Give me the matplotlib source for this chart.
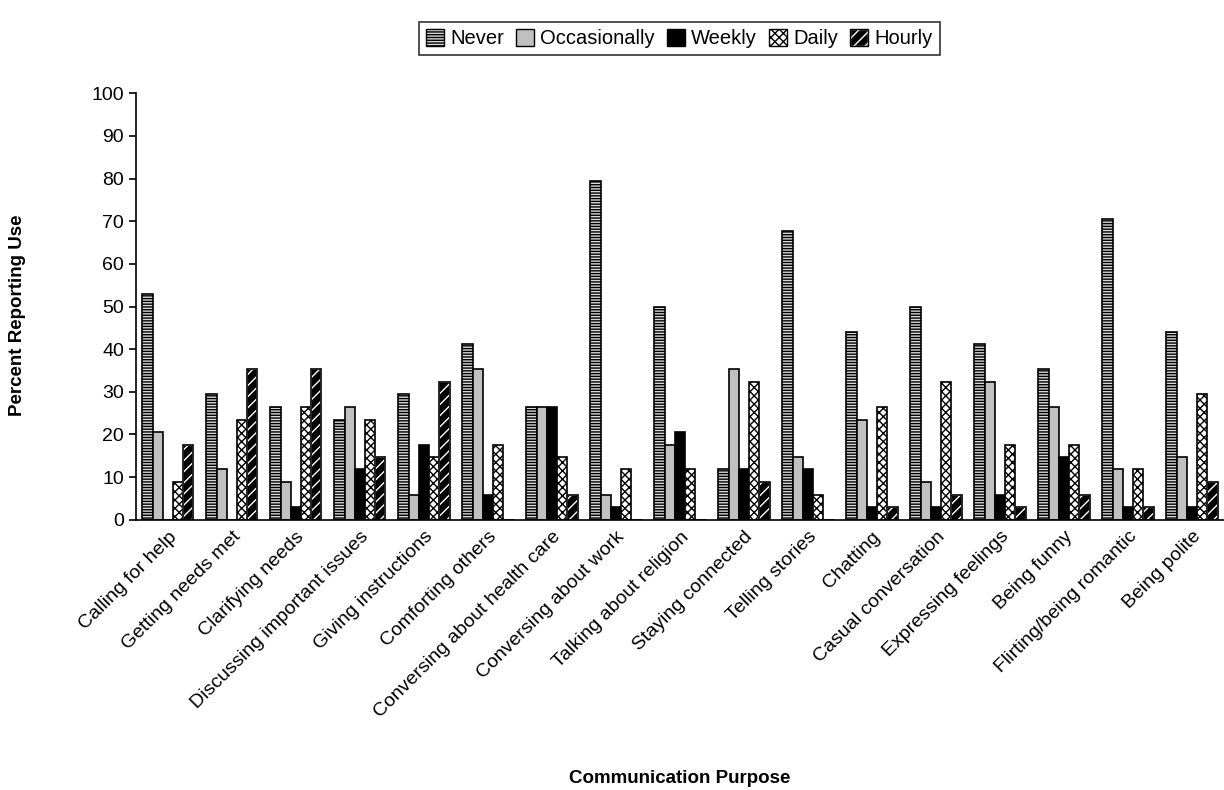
import matplotlib
matplotlib.use("Agg")
import matplotlib.pyplot as plt
import numpy as np
from matplotlib.patches import Patch

plt.rcParams['font.family'] = ['Liberation Sans', 'DejaVu Sans']
plt.rcParams['hatch.linewidth'] = 1.0

categories = ["Calling for help", "Getting needs met", "Clarifying needs",
              "Discussing important issues", "Giving instructions", "Comforting others",
              "Conversing about health care", "Conversing about work", "Talking about religion",
              "Staying connected", "Telling stories", "Chatting", "Casual conversation",
              "Expressing feelings", "Being funny", "Flirting/being romantic", "Being polite"]

never =        [52.9, 29.4, 26.5, 23.5, 29.4, 41.2, 26.5, 79.4, 50.0, 11.8, 67.6, 44.1, 50.0, 41.2, 35.3, 70.6, 44.1]
occasionally = [20.6, 11.8,  8.8, 26.5,  5.9, 35.3, 26.5,  5.9, 17.6, 35.3, 14.7, 23.5,  8.8, 32.4, 26.5, 11.8, 14.7]
weekly =       [ 0.0,  0.0,  2.9, 11.8, 17.6,  5.9, 26.5,  2.9, 20.6, 11.8, 11.8,  2.9,  2.9,  5.9, 14.7,  2.9,  2.9]
daily =        [ 8.8, 23.5, 26.5, 23.5, 14.7, 17.6, 14.7, 11.8, 11.8, 32.4,  5.9, 26.5, 32.4, 17.6, 17.6, 11.8, 29.4]
hourly =       [17.6, 35.3, 35.3, 14.7, 32.4,  0.0,  5.9,  0.0,  0.0,  8.8,  0.0,  2.9,  5.9,  2.9,  5.9,  2.9,  8.8]

series_names = ["Never", "Occasionally", "Weekly", "Daily", "Hourly"]
series = [never, occasionally, weekly, daily, hourly]

fig = plt.figure(figsize=(12.24, 7.9), dpi=100)
ax = fig.add_axes([0.111, 0.342, 0.889, 0.540])

x = np.arange(len(categories))
w = 0.16
offsets = (np.arange(5) - 2) * w

styles = [
    dict(facecolor='#d8d8d8', edgecolor='black', hatch='------'),
    dict(facecolor='#c0c0c0', edgecolor='black', hatch=None),
    dict(facecolor='black', edgecolor='black', hatch=None),
    dict(facecolor='white', edgecolor='black', hatch='xxxx'),
    dict(facecolor='black', edgecolor='white', hatch='///'),
]

handles = []
for i, (name, vals) in enumerate(zip(series_names, series)):
    st = styles[i]
    ax.bar(x + offsets[i], vals, width=w, facecolor=st['facecolor'],
           edgecolor=st['edgecolor'], hatch=st['hatch'], linewidth=1.2, zorder=2)
    if i == 4:
        ax.bar(x + offsets[i], vals, width=w, facecolor='none',
               edgecolor='black', linewidth=1.2, zorder=3)
        h = (Patch(facecolor='black', edgecolor='white', hatch='///', linewidth=1.0),
             Patch(facecolor='none', edgecolor='black', linewidth=1.0))
    else:
        h = Patch(facecolor=st['facecolor'], edgecolor='black', hatch=st['hatch'], linewidth=1.0)
    handles.append(h)

ax.set_xlim(-0.5, len(categories) - 0.5)
ax.set_ylim(0, 100)
ax.set_yticks(np.arange(0, 101, 10))
ax.tick_params(axis='y', labelsize=14, direction='out', length=5, width=1.2)
ax.set_xticks(x)
ax.set_xticklabels(categories, rotation=45, ha='right', rotation_mode='anchor', fontsize=14)
ax.tick_params(axis='x', length=0, pad=6)
for s in ['top', 'right']:
    ax.spines[s].set_visible(False)
ax.spines['left'].set_linewidth(1.2)
ax.spines['bottom'].set_linewidth(1.2)

ax.set_ylabel("Percent Reporting Use", fontsize=13.5, fontweight='bold')
ax.yaxis.set_label_coords(-0.101, 0.48)
fig.text(0.555, 0.004, "Communication Purpose", fontsize=13.5, fontweight='bold', ha='center', va='bottom')

leg = fig.legend(handles, series_names, loc='upper center', bbox_to_anchor=(0.555, 0.985),
                 ncol=5, fontsize=14.5, frameon=True, fancybox=False, edgecolor='black',
                 handlelength=0.9, handleheight=0.9, handletextpad=0.3, columnspacing=0.6,
                 borderpad=0.35)
leg.get_frame().set_linewidth(1.2)

fig.savefig("out.png", dpi=100, facecolor='white')
